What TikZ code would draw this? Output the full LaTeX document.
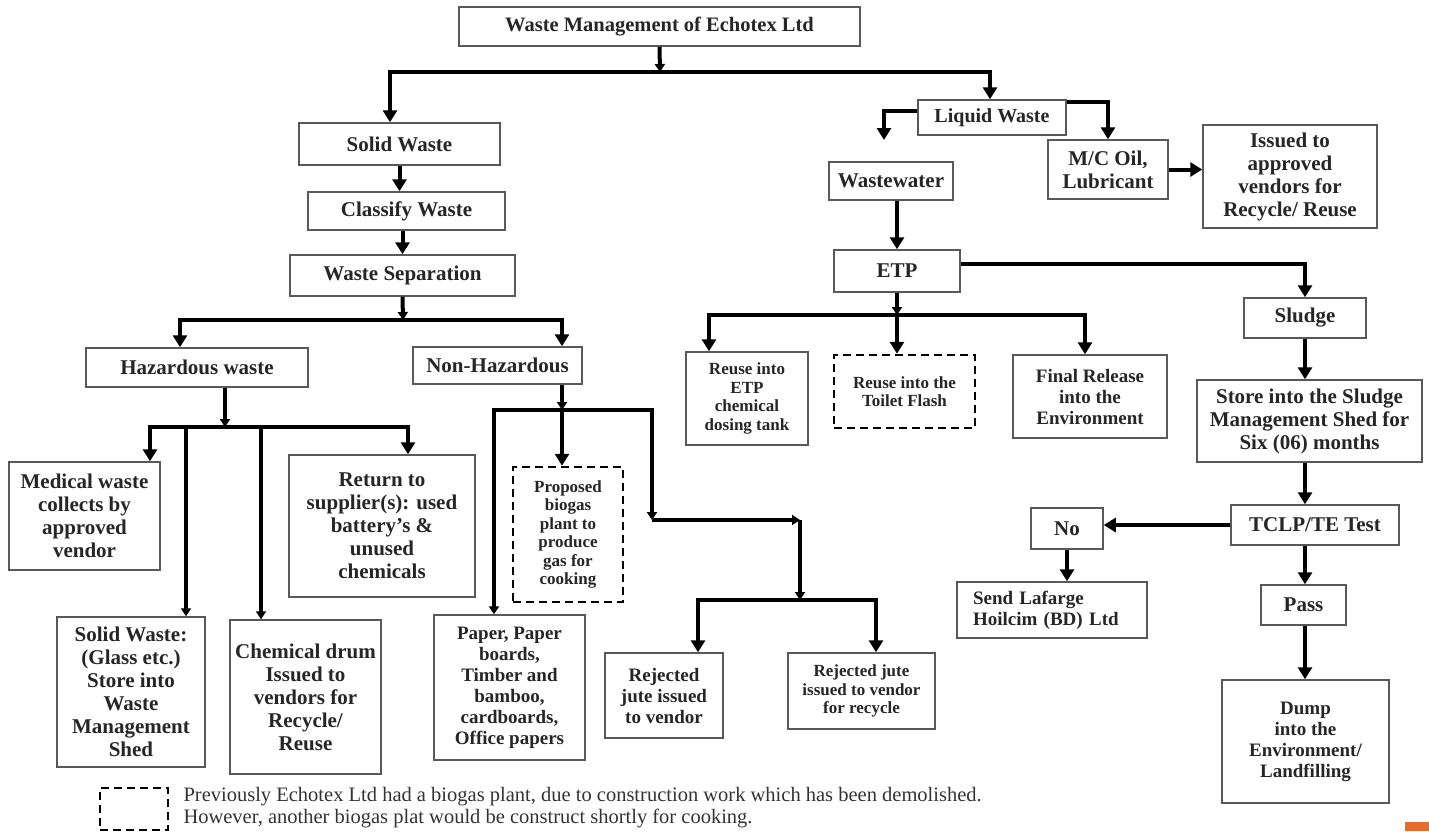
\documentclass[tikz,border=0pt]{standalone}
\usepackage{fontspec}
\setmainfont{Liberation Serif}
\usetikzlibrary{arrows.meta}
\definecolor{accent}{RGB}{228,108,46}
\tikzset{
	box/.style={draw=black!65, line width=1.5pt, fill=white, inner sep=2pt, align=center, text=black!85, font=\bfseries\fontsize{21}{23}\selectfont},
	small/.style={font=\bfseries\fontsize{17}{18.5}\selectfont},
	mid/.style={font=\bfseries\fontsize{19}{21}\selectfont},
	dbox/.style={box, draw=black, dash pattern=on 8pt off 5pt, line width=2.5pt},
	arr/.style={line width=4pt, -{Triangle[length=12pt,width=14pt]}},
	arrs/.style={line width=4pt, -{Triangle[length=8pt,width=10pt]}},
}
\begin{document}
\begin{tikzpicture}[x=1pt,y=-1pt]
		%	\draw[help lines] (0,0) grid (1429,831);
			\path[use as bounding box, fill=white] (0,0) rectangle (1429,831);
			% solid side
			\node[box, minimum width=401pt, minimum height=39pt, font=\bfseries\fontsize{20.5}{23}\selectfont] (title) at (659.5,26.5) {Waste Management of Echotex Ltd};
			\node[box, minimum width=201pt, minimum height=42pt] (solid) at (399.5,144) {Solid Waste};
			\node[box, minimum width=197pt, minimum height=38pt] (classify) at (406.5,211) {Classify Waste};
			\node[box, minimum width=225pt, minimum height=41pt] (separation) at (402.5,275.5) {Waste Separation};
			\node[box, minimum width=222pt, minimum height=39pt] (hazard) at (197,367.5) {Hazardous waste};
			\node[box, minimum width=169pt, minimum height=37pt] (nonhaz) at (497.5,365.5) {Non-Hazardous};
			\node[box, minimum width=151pt, minimum height=108pt] (medical) at (84.5,516) {Medical waste\\collects by\\approved\\vendor};
			\node[box, minimum width=186pt, minimum height=142pt] (returnsup) at (382,526) {Return to\\supplier(s): used\\battery’s \&\\unused\\chemicals};
			\node[box, minimum width=148pt, minimum height=150pt] (glass) at (131,692) {Solid Waste:\\(Glass etc.)\\Store into\\Waste\\Management\\Shed};
			\node[box, minimum width=151pt, minimum height=154pt] (drum) at (305.5,697) {Chemical drum\\Issued to\\vendors for\\Recycle/\\Reuse};
			\node[dbox, small, minimum width=110pt, minimum height=135pt] (proposed) at (568,534.5) {Proposed\\biogas\\plant to\\produce\\gas for\\cooking};
			\node[box, mid, minimum width=151pt, minimum height=145pt] (paper) at (509.5,687.5) {Paper, Paper\\boards,\\Timber and\\bamboo,\\cardboards,\\Office papers};
			\node[box, mid, minimum width=118pt, minimum height=85pt] (rejjute) at (664,695.5) {Rejected\\jute issued\\to vendor};
			\node[box, small, minimum width=147pt, minimum height=76pt] (rejrecycle) at (861.5,691) {Rejected jute\\issued to vendor\\for recycle};
			% liquid side
			\node[box, minimum width=148pt, minimum height=35pt, font=\bfseries\fontsize{20}{22}\selectfont] (liquid) at (992,117.5) {Liquid Waste};
			\node[box, minimum width=120pt, minimum height=59pt] (mcoil) at (1108,169.5) {M/C Oil,\\Lubricant};
			\node[box, minimum width=174pt, minimum height=103pt] (issued) at (1290,176.5) {Issued to\\approved\\vendors for\\Recycle/ Reuse};
			\node[box, minimum width=124pt, minimum height=38pt] (wastewater) at (891,181) {Wastewater};
			\node[box, minimum width=126pt, minimum height=42pt] (etp) at (897,271) {ETP};
			\node[box, minimum width=122pt, minimum height=40pt] (sludge) at (1305,318) {Sludge};
			\node[box, small, minimum width=122pt, minimum height=93pt] (reuseetp) at (747,398.5) {Reuse into\\ETP\\chemical\\dosing tank};
			\node[dbox, small, minimum width=141pt, minimum height=73pt] (toilet) at (904.5,391.5) {Reuse into the\\Toilet Flash};
			\node[box, mid, minimum width=154pt, minimum height=83pt] (final) at (1090,396.5) {Final Release\\into the\\Environment};
			\node[box, minimum width=225pt, minimum height=82pt] (store) at (1309.5,421) {Store into the Sludge\\Management Shed for\\Six (06) months};
			\node[box, minimum width=168pt, minimum height=40pt] (tclp) at (1315,525) {TCLP/TE Test};
			\node[box, minimum width=72pt, minimum height=41pt] (no) at (1067,528.5) {No};
			\node[box, mid, text width=158pt, inner xsep=16pt, align=left, minimum height=56pt] (lafarge) at (1052,610) {Send Lafarge\\Hoilcim (BD) Ltd};
			\node[box, minimum width=85pt, minimum height=40pt] (pass) at (1303.5,605) {Pass};
			\node[box, mid, minimum width=167pt, minimum height=123pt] (dump) at (1305.5,741.5) {Dump\\into the\\Environment/\\Landfilling};
			% legend
			\node[dbox, minimum width=68pt, minimum height=42pt] (legbox) at (134,809) {};
			\node[anchor=west, align=left, text=black!80, font=\fontsize{20.5}{22}\selectfont] (legtext) at (180,808) {Previously Echotex Ltd had a biogas plant, due to construction work which has been demolished.\\However, another biogas plat would be construct shortly for cooking.};
			\fill[accent] (1405,822) rectangle (1429,831);
			% connectors
			\coordinate (jtop) at (660,72);
			\draw[arrs] (title.south) -- (jtop);
			\draw[arr] (jtop) -| (390,0 |- solid.north);
			\draw[arr] (jtop) -| (990,0 |- liquid.north);
			\draw[arr] (solid.south) -- (solid.south |- classify.north);
			\draw[arr] (separation.north |- classify.south) -- (separation.north);
			\coordinate (jsep) at (403,320);
			\draw[arrs] (separation.south) -- (jsep);
			\draw[arr] (jsep) -| (180,0 |- hazard.north);
			\draw[arr] (jsep) -| (562,0 |- nonhaz.north);
			\coordinate (jhaz) at (225,427);
			\draw[arrs] (225,0 |- hazard.south) -- (jhaz);
			\draw[arr] (jhaz) -| (150,0 |- medical.north);
			\draw[arrs] (jhaz) -| (186,0 |- glass.north);
			\draw[arrs] (jhaz) -| (261,0 |- drum.north);
			\draw[arr] (jhaz) -| (408,0 |- returnsup.north);
			\coordinate (jnon) at (562,410);
			\coordinate (jbend) at (652,520);
			\coordinate (jright) at (800,520);
			\coordinate (jjute) at (800,600);
			\draw[arrs] (562,0 |- nonhaz.south) -- (jnon);
			\draw[arrs] (jnon) -| (494,0 |- paper.north);
			\draw[arr] (jnon) -- (562,0 |- proposed.north);
			\draw[arrs] (jnon) -| (jbend);
			\draw[arrs] (jbend) -- (jright);
			\draw[arrs] (jright) -- (jjute);
			\draw[arr] (jjute) -| (698,0 |- rejjute.north);
			\draw[arr] (jjute) -| (876,0 |- rejrecycle.north);
			\coordinate (wwend) at (884,140);
			\draw[arr] ([yshift=7pt]liquid.west) -| (wwend);
			\draw[arr] ([yshift=-3pt]liquid.north east) -| (mcoil.north);
			\draw[arr] (mcoil.east) -- (mcoil.east -| issued.west);
			\draw[arr] (wastewater.south -| etp.north) -- (etp.north);
			\draw[arr] ([yshift=7pt]etp.east) -| (sludge.north);
			\coordinate (jetp) at (897,315);
			\draw[arrs] (etp.south) -- (jetp);
			\draw[arr] (jetp) -| (709,0 |- reuseetp.north);
			\draw[arr] (jetp) -- (jetp |- toilet.north);
			\draw[arr] (jetp) -| (1085,0 |- final.north);
			\draw[arr] (sludge.south) -- (sludge.south |- store.north);
			\draw[arr] (sludge.south |- store.south) -- (sludge.south |- tclp.north);
			\draw[arr] (sludge.south |- tclp.south) -- (sludge.south |- pass.north);
			\draw[arr] (sludge.south |- pass.south) -- (sludge.south |- dump.north);
			\draw[arr] (tclp.west) -- (tclp.west -| no.east);
			\draw[arr] (no.south) -- (no.south |- lafarge.north);
		\end{tikzpicture}
\end{document}
